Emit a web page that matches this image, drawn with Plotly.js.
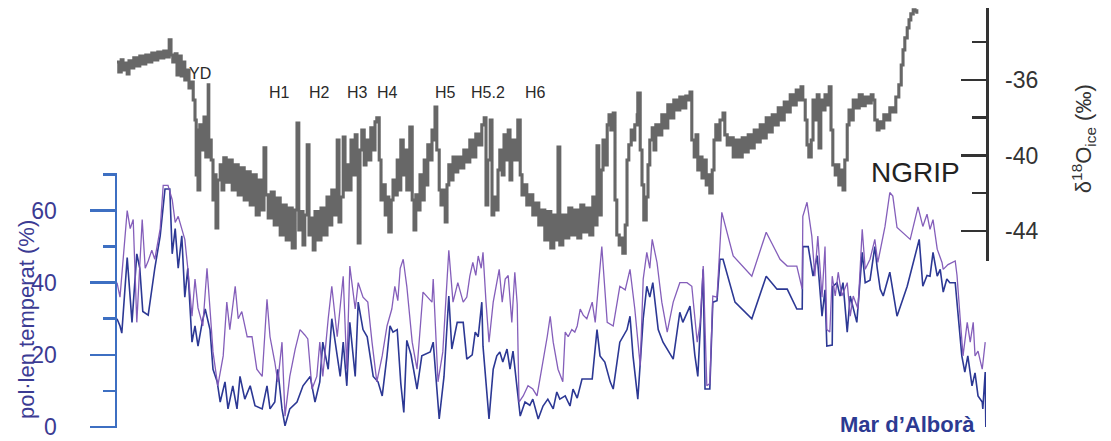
<!DOCTYPE html>
<html>
<head>
<meta charset="utf-8">
<script src="https://cdn.plot.ly/plotly-3.0.1.min.js"></script>
<style>html,body{margin:0;padding:0;background:#fff;}#chart{width:1111px;height:441px;}</style>
</head>
<body>
<div id="chart"></div>
<script>
// ---- NGRIP δ18O (‰), age axis in ka ----
const grayAge = [0.0,0.3,0.7,1.0,1.3,1.7,2.0,2.3,2.8,3.3,3.8,4.3,4.8,5.3,5.8,6.3,6.8,7.3,7.8,8.3,8.7,9.0,9.3,9.7,10.0,10.3,10.7,11.0,11.3,11.7,12.0,12.3,12.7,13.0,13.2,13.3,13.5,13.8,14.2,14.5,14.8,15.2,15.3,15.7,16.0,16.3,16.5,16.8,17.2,17.5,17.8,18.2,18.7,19.2,19.7,20.2,20.7,21.2,21.7,22.2,22.7,23.2,23.7,24.2,24.5,24.8,25.2,25.7,26.2,26.7,27.2,27.7,28.2,28.7,29.2,29.7,30.0,30.3,30.7,31.0,31.3,31.7,32.0,32.3,32.7,33.0,33.5,34.0,34.5,35.0,35.5,35.8,36.2,36.7,37.0,37.3,37.7,38.0,38.3,38.7,39.0,39.3,39.7,40.0,40.2,40.5,40.8,41.2,41.5,41.8,42.3,42.7,43.0,43.3,43.7,44.0,44.3,44.7,45.0,45.3,45.7,46.0,46.3,46.7,47.0,47.3,47.7,48.0,48.3,48.8,49.2,49.5,49.8,50.2,50.5,50.8,51.2,51.5,51.8,52.2,52.5,52.8,53.0,53.3,53.7,54.0,54.3,54.7,55.0,55.3,55.7,56.0,56.3,56.8,57.3,57.8,58.3,58.8,59.3,59.8,60.3,60.8,61.2,61.5,61.8,62.2,62.5,62.8,63.2,63.5,63.8,64.2,64.5,64.8,65.2,65.5,65.8,66.3,66.8,67.2,67.5,67.8,68.3,68.8,69.3,69.8,70.3,70.8,71.3,71.8,72.3,72.8,73.2,73.5,73.8,74.3,74.8,75.3,75.8,76.3,76.8,77.3,77.8,78.3,78.8,79.3,79.8,80.0,80.3,80.7,81.0,81.3,81.7,82.0,82.3,82.7,83.0,83.3,83.7,84.0,84.3,84.7,85.0,85.3,85.7,86.0,86.3,86.7,86.8,87.2,87.5,87.8,88.2,88.5,88.8,89.2,89.5,89.8,90.3,90.8,91.3,91.8,92.3,92.8,93.3,93.8,94.3,94.8,95.2,95.5,95.8,96.2,96.5,96.8,97.2,97.5,97.8,98.2,98.5,98.8,99.2,99.5,99.8,100.2,100.5,101.0,101.3,101.7,102.2,102.7,103.2,103.7,104.2,104.7,105.2,105.7,106.2,106.7,107.2,107.7,108.2,108.7,109.2,109.7,110.2,110.7,111.2,111.7,112.2,112.7,113.2,113.7,114.0,114.3,114.7,115.0,115.3,115.7,116.0,116.3,116.7,117.0,117.3,117.7,118.0,118.3,118.7,119.0,119.3,119.7,120.0,120.3,120.7,121.0,121.3,121.7,122.0,122.3,122.7,123.2,123.7,124.2,124.7,125.2,125.7,126.0,126.3,126.7,127.0,127.3,127.8,128.3,128.8,129.3,129.8,130.3,130.7,131.0,131.3,131.7,132.0,132.3,132.7,133.0,133.3];
const grayD18O = [-35.05,-35.58,-34.94,-35.47,-35.10,-35.68,-34.99,-35.36,-34.83,-35.26,-34.73,-35.15,-34.68,-35.05,-34.57,-34.94,-34.52,-34.83,-34.47,-34.78,-33.88,-34.68,-35.05,-34.62,-35.74,-34.73,-35.79,-35.05,-36.00,-35.47,-36.42,-36.11,-37.06,-38.12,-41.03,-38.65,-41.83,-38.38,-39.71,-37.96,-40.08,-36.26,-39.18,-40.24,-42.36,-41.03,-43.84,-41.30,-40.50,-41.83,-40.13,-41.41,-40.24,-41.83,-40.50,-42.09,-40.66,-42.36,-40.87,-42.62,-41.03,-43.15,-41.30,-42.89,-39.60,-42.09,-43.31,-41.94,-43.68,-42.26,-44.21,-42.62,-44.48,-42.79,-44.90,-42.89,-38.28,-43.95,-42.97,-44.74,-43.15,-39.44,-44.21,-43.31,-45.01,-42.97,-44.48,-42.79,-44.21,-42.20,-43.68,-41.83,-43.15,-39.18,-43.52,-42.20,-39.02,-41.83,-40.50,-41.83,-39.18,-41.03,-38.91,-40.24,-44.64,-39.71,-38.65,-40.50,-39.18,-40.24,-38.54,-39.71,-38.22,-38.01,-40.24,-42.36,-41.56,-43.15,-42.20,-44.05,-42.36,-41.30,-42.09,-40.24,-41.83,-39.18,-41.03,-39.71,-41.83,-38.49,-42.36,-43.95,-42.09,-42.89,-41.03,-42.36,-40.24,-41.56,-39.44,-40.24,-38.65,-39.18,-37.43,-39.71,-41.83,-42.62,-41.83,-43.52,-41.56,-40.50,-41.30,-40.08,-40.87,-40.08,-40.66,-39.71,-40.34,-39.18,-40.08,-38.86,-39.44,-38.38,-38.01,-42.62,-40.24,-38.12,-43.15,-42.20,-42.89,-40.77,-39.71,-41.03,-38.91,-40.24,-38.65,-41.30,-39.18,-40.24,-38.12,-41.03,-42.09,-41.56,-42.62,-42.09,-43.15,-42.52,-43.68,-42.89,-44.48,-42.97,-44.90,-43.15,-44.48,-39.55,-44.74,-43.15,-44.37,-42.79,-44.21,-42.89,-44.37,-42.62,-44.05,-42.79,-44.21,-42.20,-43.68,-39.49,-43.15,-40.77,-39.18,-40.50,-38.38,-37.85,-38.65,-37.75,-42.36,-44.21,-44.74,-44.37,-45.17,-43.68,-40.24,-39.44,-38.65,-39.18,-38.38,-37.85,-36.69,-39.71,-41.56,-43.42,-42.20,-40.50,-39.18,-38.54,-39.71,-38.38,-38.91,-37.85,-38.54,-37.32,-38.01,-37.06,-37.59,-36.90,-37.48,-36.85,-37.06,-36.64,-39.18,-40.08,-38.91,-40.77,-40.08,-41.19,-40.24,-41.56,-41.03,-41.99,-40.77,-39.18,-38.38,-39.18,-38.12,-37.75,-38.91,-39.44,-39.07,-40.08,-39.18,-40.08,-39.07,-39.81,-38.91,-39.60,-38.65,-39.28,-38.38,-39.07,-38.01,-38.75,-37.85,-38.38,-37.48,-38.12,-37.17,-37.70,-36.79,-37.32,-36.53,-37.06,-36.37,-37.06,-38.12,-39.44,-40.08,-39.18,-37.06,-38.12,-36.79,-39.60,-37.06,-37.59,-36.79,-37.32,-36.37,-38.65,-40.50,-41.03,-40.50,-41.56,-40.77,-41.83,-40.24,-38.38,-37.59,-38.12,-37.06,-37.48,-36.79,-37.37,-36.90,-37.22,-36.79,-37.06,-38.12,-38.65,-38.22,-38.54,-37.85,-38.12,-37.48,-37.70,-36.90,-36.26,-35.21,-34.41,-33.77,-33.24,-32.82,-32.50,-32.29,-32.34,-32.50];

// ---- Alboran Sea temperate pollen (%) ----
const blueAge = [0.0,0.5,0.8,1.7,2.5,3.3,3.8,4.3,5.2,5.8,6.3,7.2,8.0,8.8,9.2,9.7,10.2,10.8,11.3,11.8,12.5,13.0,13.5,14.2,14.7,15.5,16.0,16.7,17.2,18.0,18.5,19.3,20.0,20.5,21.3,22.2,23.0,24.2,25.0,25.5,26.3,26.8,27.5,28.0,28.8,30.0,31.0,32.2,33.0,33.8,34.3,35.2,35.8,36.7,37.2,37.7,38.3,38.8,39.7,40.2,41.0,41.7,42.2,42.7,43.5,44.2,45.0,45.5,46.0,46.7,47.3,47.8,48.3,49.0,50.0,50.8,52.2,52.7,53.7,54.5,55.3,55.8,56.7,57.7,58.3,59.2,59.7,60.2,60.8,61.0,62.0,62.7,63.3,63.8,64.3,65.0,65.5,66.0,66.7,67.2,68.0,68.8,69.3,70.2,71.0,71.8,72.7,73.3,73.8,74.7,75.5,76.0,76.7,77.5,79.2,80.0,80.5,81.3,82.2,82.7,83.8,85.0,85.5,86.0,86.8,87.7,88.3,88.8,89.3,90.2,91.0,92.7,93.8,94.3,95.5,96.3,96.8,97.7,98.0,98.8,99.3,100.0,100.5,101.0,103.0,105.8,108.2,110.0,111.7,113.3,114.2,114.3,115.2,116.0,116.7,117.5,118.0,118.3,119.2,119.3,120.0,120.5,121.0,121.7,122.2,122.7,123.3,124.2,124.7,125.5,126.3,126.7,127.2,127.7,128.8,130.0,131.7,133.7,134.3,135.0,135.5,136.0,136.7,137.2,137.7,138.3,138.8,139.7,140.2,140.8,141.3,141.8,142.5,143.0,143.5,144.2,144.3,144.7,144.8];
const bluePollen = [30,28,26,47,29,48,44,32,31,39,44,53,66,66,48,55,44,53,36,44,23.5,28,22.4,29,32.7,27,16,12.5,6.9,12.5,5,11.4,5,14,7.7,11.4,5.9,5,11.4,5,6.9,16,5,0.3,5,6.9,11.4,14,6.9,12.5,23.5,16,30,19.7,14,23.5,11.4,29,14,34.6,27,25,19.7,14,12.5,8.6,19.7,28,26.3,27,12,4,24,20,10.5,19.7,20.8,23.5,2.2,14,36.3,21.6,29,29,18.8,20,26.3,25,34.6,22.4,2.2,16,19.7,20.8,18,21.6,16,21,10.5,3,6.9,6,7.7,2.2,5.8,7.7,5,9.7,7.7,8.6,5.8,10.5,8,13.3,13.3,27,19.7,18,12.5,10.5,23.5,27,30.7,19.7,7.7,30,39,36,40,27,23.5,18.8,31.8,29,33.5,20,14,43.7,10.5,10.5,34.6,35,46.5,46.5,34.6,30,41.8,38.2,38.2,32.7,32.7,50,50,41.8,47.5,30.7,38,22.4,22.7,39,40,36.3,40,26.3,36.3,32.7,29,48.4,40,40.7,50,44,38.2,36.3,42.9,30.7,39,52,39,42,41.8,48.4,41.8,43.7,37.4,41,40,40,30,19.7,15.2,19.7,11.4,15,8.6,6.9,5,15.2,0];

const purpleAge = [0.0,0.5,1.7,2.2,2.7,3.3,4.2,4.7,5.2,5.8,6.3,7.2,7.7,8.5,9.2,9.7,10.2,10.8,11.3,11.8,12.5,13.0,13.5,14.3,15.0,15.5,16.0,16.8,17.7,18.3,18.8,19.7,20.2,20.8,21.7,22.5,23.3,24.2,25.0,25.5,26.3,26.8,27.5,28.0,28.8,29.7,30.5,31.3,31.8,32.5,33.3,33.8,34.3,35.2,35.8,36.7,37.2,37.7,38.3,38.8,39.7,40.2,41.0,41.8,42.5,43.3,44.2,45.0,45.8,46.3,46.8,47.2,47.7,48.3,49.2,50.0,51.0,51.8,52.5,52.7,53.5,54.3,55.3,56.0,56.8,57.7,58.3,58.8,59.3,59.8,60.2,60.7,61.0,61.5,62.0,62.7,63.3,63.7,64.2,64.7,65.2,65.8,66.3,66.7,67.0,67.7,68.5,69.3,70.0,70.8,71.7,72.2,72.7,73.5,74.3,74.7,75.2,75.8,76.3,76.7,77.2,77.7,78.3,79.2,79.7,80.8,81.7,82.7,83.8,84.7,85.5,86.3,87.2,87.7,88.3,88.8,89.2,90.0,90.8,91.7,92.7,93.8,95.0,95.8,96.7,97.2,97.7,98.3,98.8,99.3,100.0,100.8,102.7,105.8,108.2,110.5,111.7,113.3,114.2,114.3,115.0,115.8,116.3,116.8,117.5,118.0,118.3,118.8,119.2,119.7,120.2,120.8,121.7,122.2,122.7,123.5,124.2,124.7,125.5,126.3,126.8,128.0,128.8,129.3,130.0,132.2,133.5,134.3,135.0,135.5,136.0,136.7,137.5,137.7,138.5,139.7,140.0,140.5,141.0,141.7,142.2,142.7,143.0,143.5,144.2,144.7];
const purplePollen = [40,36,60,55,57.5,29,57.5,44,46,49,46.5,55,67,67,63,56.7,58.4,55,52,44,30.7,41,33,28,44,32.7,20.8,11.4,19.7,34.6,27,39,30,32,25,25,16,14,35.4,25,18,12.5,23.5,3,14,21.6,27,25.5,24.4,10.5,14,23.5,14,30,39,25,32.7,41.8,16,44.6,32.7,40,36,34.6,23.5,12.5,19.7,28,32.7,39,35,44,46.5,39,23.5,16,37.4,36,34.6,41,12.5,20.8,49,34.6,40,34.6,36,41.8,45.6,42,47.4,44,48.4,34.6,23.5,34.6,40,43.7,34.6,41,42,29,42.9,34,6.9,8.6,11.4,10.5,8.6,16,25,30.7,23.5,16,12.5,26.3,25,27,26.3,28,32.7,31,30,34.6,29,50,29,28,39,38,43.7,32.7,17,41,48.4,44,52,45.6,34.6,26.3,34.6,40,40,39,23.5,29,44.6,11.4,12,36.3,36,59.5,47.4,41.8,54,46.5,44.6,44.6,38.2,58.4,62.3,52.9,41.8,52.9,36,50,27,26.3,41.8,36.3,42.9,36.3,40,30.7,36.3,32.7,54.8,43.7,46.5,52,45.6,55.6,65,64,55.3,52,61,55.6,59,54.8,57.5,49.3,45.6,43.7,45,46,42,30.7,19.7,29,23.5,29,19.7,21,16,23.5];

// ---- axis ticks and labels ----
const pollenTicks = [0, 20, 40, 60];
const pollenTickText = ['0', '20', '40', '60'];
const pollenMinorTicks = [10, 30, 50, 70];
const isoTicks = [-44, -40, -36];
const isoTickText = ['-44', '-40', '-36'];
const isoMinorTicks = [-42, -38, -34];
const eventLabels = ['YD', 'H1', 'H2', 'H3', 'H4', 'H5', 'H5.2', 'H6'];
const eventAges = [13.8, 27.0, 33.7, 40.0, 45.0, 54.7, 61.8, 69.7];

const FONT = 'Liberation Sans, Arial, Helvetica, sans-serif';
const BLUE_AXIS = '#3d6fc2';
const BLUE_TEXT = '#3b3b93';

const traces = [
  { x: grayAge, y: grayD18O, yaxis: 'y2', type: 'scatter', mode: 'lines',
    line: { color: '#676767', width: 3.1, shape: 'hv' }, hoverinfo: 'skip' },
  { x: blueAge, y: bluePollen, yaxis: 'y', type: 'scatter', mode: 'lines',
    line: { color: '#2c3894', width: 1.6 }, hoverinfo: 'skip', cliponaxis: false },
  { x: purpleAge, y: purplePollen, yaxis: 'y', type: 'scatter', mode: 'lines',
    line: { color: '#7d55b6', width: 1.3 }, opacity: 0.95, hoverinfo: 'skip' }
];

const annotations = eventLabels.map((t, i) => ({
  text: t, x: eventAges[i], xref: 'x', y: (t === 'YD') ? 0.845 : 0.798, yref: 'paper',
  showarrow: false, xanchor: 'center', yanchor: 'middle',
  font: { family: FONT, size: 16, color: '#2a2a2a' }
}));
annotations.push(
  { text: 'NGRIP', x: 0.9183, xref: 'paper', y: 0.6095, yref: 'paper', showarrow: false,
    xanchor: 'center', yanchor: 'middle', font: { family: FONT, size: 28, color: '#222' } },
  { text: '<b>Mar d’Alborà</b>', x: 0.9896, xref: 'paper', y: 0.0095, yref: 'paper', showarrow: false,
    xanchor: 'right', yanchor: 'middle', font: { family: FONT, size: 22, color: '#2c3a92' } },
  { text: 'pol·len temperat (%)', x: -0.1047, xref: 'paper', y: 0.257, yref: 'paper', showarrow: false,
    textangle: -90, xanchor: 'center', yanchor: 'middle', font: { family: FONT, size: 22, color: BLUE_TEXT } },
  { text: 'δ<sup>18</sup>O<sub>ice</sub> (‰)', x: 1.1116, xref: 'paper', y: 0.69, yref: 'paper', showarrow: false,
    textangle: -90, xanchor: 'center', yanchor: 'middle', font: { family: FONT, size: 22, color: '#333' } }
);

const layout = {
  width: 1111, height: 441,
  margin: { l: 117, r: 125, t: 8, b: 13 },
  paper_bgcolor: '#ffffff', plot_bgcolor: 'rgba(0,0,0,0)',
  showlegend: false,
  xaxis: { range: [0, 144.83], visible: false, fixedrange: true },
  yaxis: {
    domain: [0, 0.607], range: [-0.3, 70.4], anchor: 'x', side: 'left',
    showline: true, linecolor: BLUE_AXIS, linewidth: 2.5,
    showgrid: false, zeroline: false,
    tickmode: 'array', tickvals: pollenTicks, ticktext: pollenTickText,
    ticks: 'outside', ticklen: 25, tickwidth: 2.5, tickcolor: BLUE_AXIS,
    ticklabelstandoff: 28,
    tickfont: { family: FONT, size: 23, color: BLUE_TEXT },
    minor: { tickmode: 'array', tickvals: pollenMinorTicks, ticks: 'outside', ticklen: 12, tickwidth: 2.5, tickcolor: BLUE_AXIS, showgrid: false }
  },
  yaxis2: {
    domain: [0.3976, 1], range: [-45.59, -32.19], anchor: 'x', side: 'right',
    showline: true, linecolor: '#333333', linewidth: 2.5,
    showgrid: false, zeroline: false,
    tickmode: 'array', tickvals: isoTicks, ticktext: isoTickText,
    ticks: 'inside', ticklen: 25, tickwidth: 2.5, tickcolor: '#333333',
    ticklabelstandoff: 12,
    tickfont: { family: FONT, size: 23, color: '#333' },
    minor: { tickmode: 'array', tickvals: isoMinorTicks, ticks: 'inside', ticklen: 14, tickwidth: 2.5, tickcolor: '#333333', showgrid: false }
  },
  annotations: annotations
};

Plotly.newPlot('chart', traces, layout, { staticPlot: true, displayModeBar: false });
</script>
</body>
</html>
